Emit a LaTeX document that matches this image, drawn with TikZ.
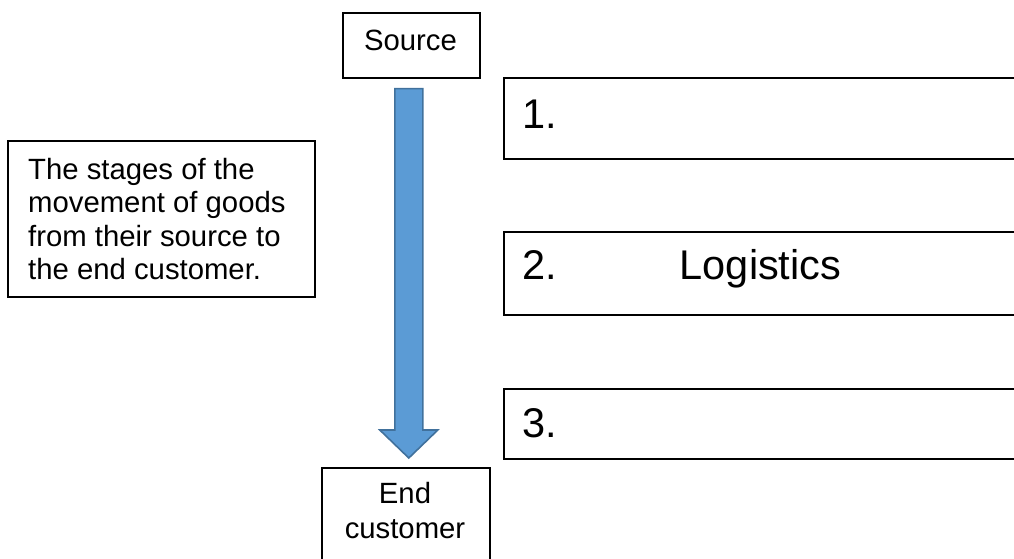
\documentclass[tikz,border=0pt]{standalone}
\usepackage{fontspec}
\setmainfont{Liberation Sans}
\usetikzlibrary{calc}
\definecolor{arrowfill}{HTML}{5B9BD5}
\definecolor{arrowline}{HTML}{41719C}

\begin{document}
\begin{tikzpicture}[x=1pt,y=-1pt,
  box/.style={draw=black, line width=1.6pt, inner sep=0pt, anchor=north west},
  small/.style={font=\fontsize{29.3}{33.5}\selectfont},
  big/.style={font=\fontsize{41.5}{46}\selectfont},
  txt/.style={inner sep=0pt, anchor=base west},
  blockarrow/.style={fill=arrowfill, draw=arrowline, line width=1.6pt, line join=miter}]
\useasboundingbox (0,0) rectangle (1014,558);
\begin{scope}
\clip (0,0) rectangle (1014,558);

% description box on the left
\node[box, minimum width=307pt, minimum height=156pt] (note) at (7,140) {};
\node[small, inner sep=0pt, anchor=north west, align=left] (notetext) at (28,158)
  {The stages of the\\movement of goods\\from their source to\\the end customer.};

% start and end of the flow
\node[box, minimum width=137pt, minimum height=65pt] (src) at (342,12) {};
\node[small, txt, anchor=base] (srctext) at (410.5,50) {Source};

\node[box, minimum width=168pt, minimum height=130pt] (end) at (321,467) {};
\node[font=\fontsize{29.3}{35}\selectfont, inner sep=0pt, anchor=north, align=center]
  (endtext) at (405,482) {End\\customer};

% block arrow from source down to the end customer
\coordinate (atop) at ($(src.south)+(-2.5,10)$);
\coordinate (atip) at ($(end.north)+(3,-9)$);
\draw[blockarrow]
  ($(atop)+(-14,0)$) -- ($(atop)+(14,0)$) -- ($(atip)+(14,-28)$) --
  ($(atip)+(29,-28)$) -- (atip) -- ($(atip)+(-29,-28)$) --
  ($(atip)+(-14,-28)$) -- cycle;

% the three stages
\node[box, minimum width=540pt, minimum height=81pt] (s1) at (503,77) {};
\node[box, minimum width=540pt, minimum height=83pt] (s2) at (503,231) {};
\node[box, minimum width=540pt, minimum height=70pt] (s3) at (503,388) {};
\node[big, txt] (s1text) at (522,128) {1.};
\node[big, txt] (s2text) at (522,279) {2.\hspace{123pt}Logistics};
\node[big, txt] (s3text) at (522,437) {3.};
\end{scope}
\end{tikzpicture}
\end{document}
